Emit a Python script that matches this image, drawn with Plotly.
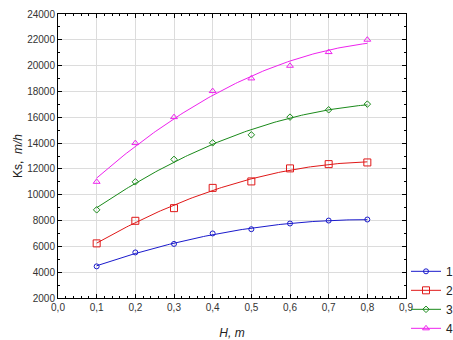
import numpy as np
import plotly.graph_objects as go

# ---- data ----
H = [0.1, 0.2, 0.3, 0.4, 0.5, 0.6, 0.7, 0.8]
ks1 = [4450, 5530, 6190, 7000, 7330, 7770, 8000, 8080]
ks2 = [6230, 7980, 8960, 10530, 11030, 12040, 12370, 12500]
ks3 = [8830, 11000, 12740, 14020, 14640, 16010, 16580, 17020]
ks4 = [11000, 14000, 16010, 18030, 19010, 19990, 21050, 22010]
series_names = ["1", "2", "3", "4"]

x_tick_vals = [0.0, 0.1, 0.2, 0.3, 0.4, 0.5, 0.6, 0.7, 0.8, 0.9]
x_tick_text = ["0,0", "0,1", "0,2", "0,3", "0,4", "0,5", "0,6", "0,7", "0,8", "0,9"]
y_tick_vals = [2000, 4000, 6000, 8000, 10000, 12000, 14000, 16000, 18000, 20000, 22000, 24000]
y_tick_text = [str(v) for v in y_tick_vals]

colors = ["#1a1acc", "#e01818", "#1a8a1a", "#ee22ee"]
symbols = ["circle-open", "square-open", "diamond-open", "triangle-up-open"]
sizes = [5, 7, 5, 6]

fig = go.Figure()
all_series = [ks1, ks2, ks3, ks4]
for name, ys, c, s, sz in zip(series_names, all_series, colors, symbols, sizes):
    coef = np.polyfit(H, ys, 2)
    xf = np.linspace(min(H), max(H), 120)
    yf = np.polyval(coef, xf)
    fig.add_trace(go.Scatter(x=xf, y=yf, mode="lines", line=dict(color=c, width=1),
                             showlegend=False, hoverinfo="skip"))
    fig.add_trace(go.Scatter(x=H, y=ys, mode="markers",
                             marker=dict(symbol=s, size=sz, color=c, line=dict(width=1, color=c)),
                             showlegend=False))
    fig.add_trace(go.Scatter(x=[None], y=[None], mode="lines+markers", name=name,
                             line=dict(color=c, width=1),
                             marker=dict(symbol=s, size=sz, color=c, line=dict(width=1, color=c))))

axis_common = dict(showline=True, linecolor="#000", linewidth=1, mirror="ticks",
                   ticks="inside", ticklen=4, tickcolor="#000", automargin=False,
                   showgrid=True, gridcolor="#dcdcdc", gridwidth=1, zeroline=False,
                   tickfont=dict(family="Liberation Sans, Arial", size=10, color="#333"))

fig.update_xaxes(range=[0, 0.9], tickvals=x_tick_vals, ticktext=x_tick_text,
                 minor=dict(dtick=0.02, ticks="inside", ticklen=2, tickcolor="#000", showgrid=False),
                 title=dict(text="<i>H, m</i>", standoff=16,
                            font=dict(family="Liberation Sans, Arial", size=12, color="#222")),
                 **axis_common)
fig.update_yaxes(range=[2000, 24000], tickvals=y_tick_vals, ticktext=y_tick_text,
                 minor=dict(dtick=1000, tick0=1000, ticks="inside", ticklen=2, tickcolor="#000", showgrid=False),
                 title=dict(text="Ks,  <i>m/h</i>", standoff=1,
                            font=dict(family="Liberation Sans, Arial", size=12, color="#222")),
                 **axis_common)

fig.update_layout(
    width=453, height=340,
    margin=dict(l=58, r=47, t=14, b=42, autoexpand=False),
    plot_bgcolor="white", paper_bgcolor="white",
    legend=dict(x=1.0, y=0.145, xanchor="left", yanchor="top",
                font=dict(family="Liberation Sans, Arial", size=12, color="#222"),
                bgcolor="rgba(0,0,0,0)", itemwidth=30, tracegroupgap=0),
)

fig.write_html("out.html")
